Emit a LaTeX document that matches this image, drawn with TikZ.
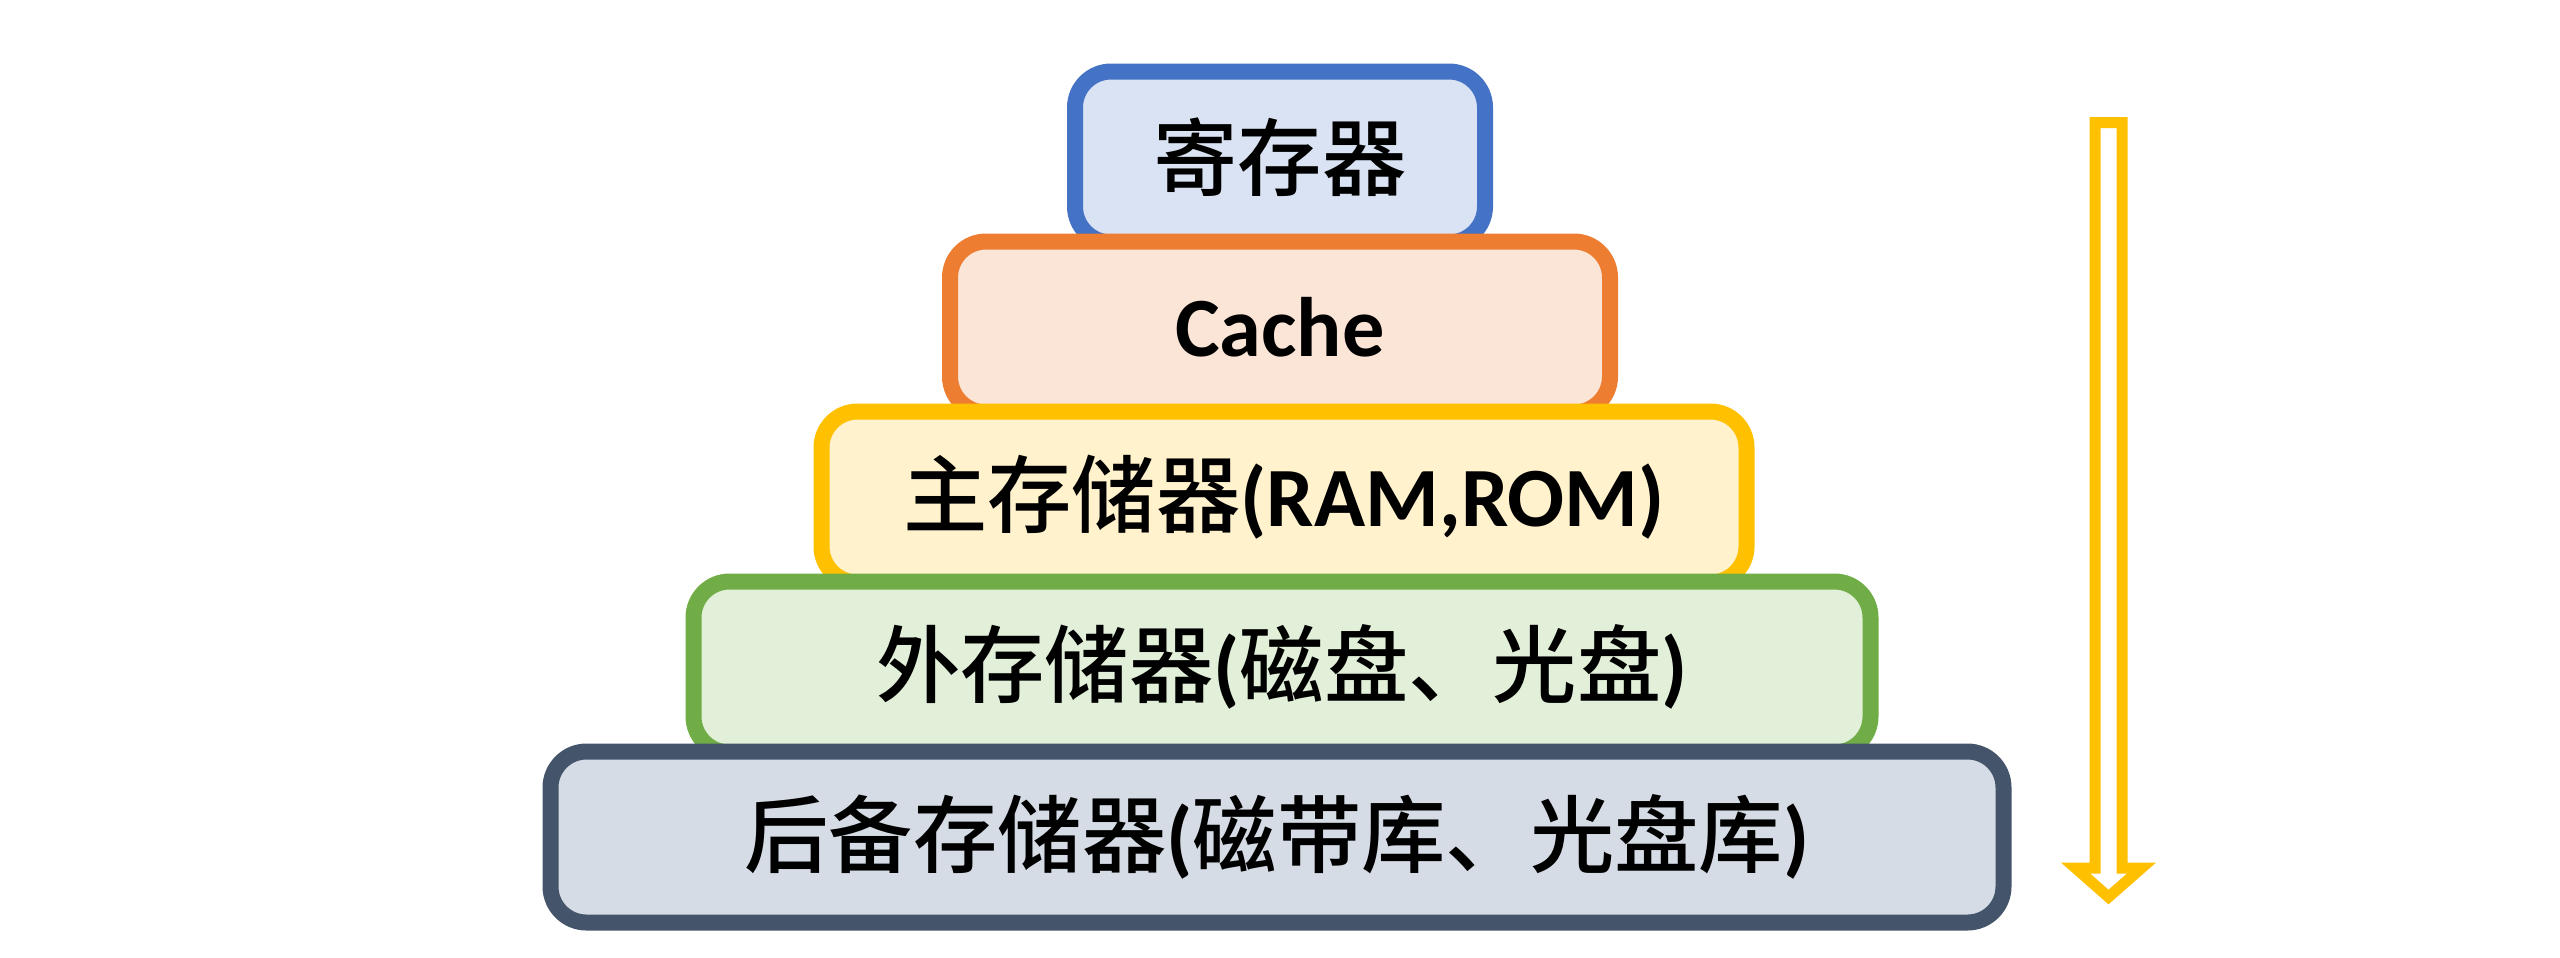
\documentclass[tikz,border=0pt]{standalone}
\usepackage{fontspec}
\setmainfont{Carlito}
\newfontfamily\cjk{Noto Sans CJK SC}[BoldFont={Noto Sans CJK SC Medium}]
\usepackage{tikz}
\usetikzlibrary{positioning}
\definecolor{regblue}{HTML}{4472C4}
\definecolor{regfill}{HTML}{DAE3F3}
\definecolor{cacheorange}{HTML}{ED7D31}
\definecolor{cachefill}{HTML}{FBE5D6}
\definecolor{ramyellow}{HTML}{FFC000}
\definecolor{ramfill}{HTML}{FFF2CC}
\definecolor{diskgreen}{HTML}{70AD47}
\definecolor{diskfill}{HTML}{E2F0D9}
\definecolor{tapeslate}{HTML}{44546A}
\definecolor{tapefill}{HTML}{D6DCE5}

\begin{document}
\begin{tikzpicture}[
    layer/.style={draw, rectangle, rounded corners=0.36cm, line width=0.16cm,
      minimum height=1.71cm, inner sep=0pt,
      font=\fontsize{24}{28}\selectfont\bfseries}
  ]
  \useasboundingbox (0, 0) rectangle (25.6, -9.57);
  % --- memory levels, top to bottom --------------------------------
  \node[layer, regblue, fill=regfill, text=black, minimum width=4.10cm]
    (reg) at (12.80, -1.57) {\cjk 寄存器};
  \node[layer, cacheorange, fill=cachefill, text=black, minimum width=6.60cm]
    (cache) at (12.80, -3.27) {Cache};
  \node[layer, ramyellow, fill=ramfill, text=black, minimum width=9.25cm]
    (ram) at (12.84, -4.97) {{\cjk 主存储器}(RAM,ROM)};
  \node[layer, diskgreen, fill=diskfill, text=black, minimum width=11.77cm]
    (disk) at (12.82, -6.67) {{\cjk 外存储器}({\cjk 磁盘、光盘})};
  \node[layer, tapeslate, fill=tapefill, text=black, minimum width=14.53cm]
    (tape) at (12.77, -8.37) {{\cjk 后备存储器}({\cjk 磁带库、光盘库})};
  % --- hollow arrow ------------------------------------------------
  \draw[ramyellow, fill=white, line width=0.11cm]
    (20.95, -1.225) -- (21.22, -1.225) -- (21.22, -8.68) -- (21.415, -8.68)
    -- (21.085, -8.97) -- (20.755, -8.68) -- (20.95, -8.68) -- cycle;
\end{tikzpicture}
\end{document}
